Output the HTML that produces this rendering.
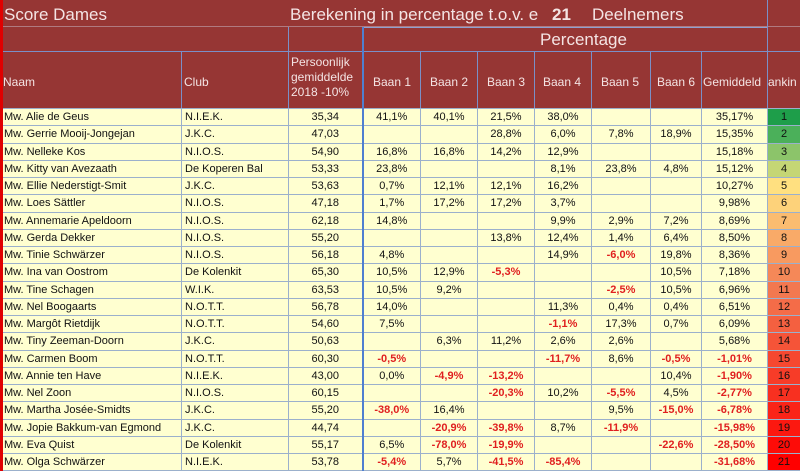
<!DOCTYPE html>
<html><head><meta charset="utf-8"><style>
body{margin:0;width:800px;height:471px;overflow:hidden;background:#fff;font-family:"Liberation Sans",Arial,sans-serif}
.top{position:absolute;left:0;top:0;width:800px;height:108px;background:#963634;color:#f4e4e4}
.top div{position:absolute}
table{position:absolute;left:0;top:108px;border-collapse:collapse;table-layout:fixed;width:800px}
td{height:16.25px;padding:0 3px;font-size:11px;color:#111;border:1px solid #9bb0cc;background:#ffffd0;white-space:nowrap;overflow:hidden;text-align:center}
td.l{text-align:left}
td.n{color:#e02020;font-weight:bold}
tr td:nth-child(4){border-left:2px solid #4f7fd0}
.vl{position:absolute;width:1px;background:#7a8fc8;top:51px;height:57px}
</style></head><body>
<div class="top">
<div style="left:0;top:0;width:3px;height:471px;background:#e00000"></div>
<div style="left:4px;top:5px;font-size:17px">Score Dames</div>
<div style="left:290px;top:5px;font-size:17px">Berekening in percentage t.o.v. e</div>
<div style="left:552px;top:5px;font-size:17px;font-weight:bold">21</div>
<div style="left:592px;top:5px;font-size:17px">Deelnemers</div>
<div style="left:0;top:26px;width:800px;height:1px;background:#b07a80"></div>
<div style="left:362px;top:27px;width:405px;height:1px;background:#8ea0d0"></div>
<div style="left:540px;top:30px;font-size:17px">Percentage</div>
<div style="left:362px;top:51px;width:438px;height:1px;background:#7a8fc8"></div>
<div style="left:0;top:51px;width:362px;height:1px;background:#7a8fc8"></div>
<div style="left:288px;top:27px;width:1px;height:81px;background:#7a8fc8"></div>
<div style="left:362px;top:27px;width:2px;height:81px;background:#4f7fd0"></div>
<div style="left:767px;top:0;width:1px;height:108px;background:#7a8fc8"></div>
<div class="vl" style="left:181px"></div><div class="vl" style="left:420px"></div><div class="vl" style="left:477px"></div><div class="vl" style="left:534px"></div><div class="vl" style="left:591px"></div><div class="vl" style="left:650px"></div><div class="vl" style="left:701px"></div>
<div style="left:3px;top:75px;font-size:12px">Naam</div>
<div style="left:184px;top:75px;font-size:12px">Club</div>
<div style="left:291px;top:55px;font-size:12px;line-height:15px">Persoonlijk<br>gemiddelde<br>2018 -10%</div>
<div style="left:373px;top:75px;font-size:12px">Baan 1</div>
<div style="left:430px;top:75px;font-size:12px">Baan 2</div>
<div style="left:487px;top:75px;font-size:12px">Baan 3</div>
<div style="left:543px;top:75px;font-size:12px">Baan 4</div>
<div style="left:601px;top:75px;font-size:12px">Baan 5</div>
<div style="left:657px;top:75px;font-size:12px">Baan 6</div>
<div style="left:703px;top:75px;font-size:12px">Gemiddeld</div>
<div style="left:768px;top:75px;font-size:12px">ankin</div>
</div>
<table>
<colgroup><col style="width:181px"><col style="width:107px"><col style="width:74px"><col style="width:58px"><col style="width:57px"><col style="width:57px"><col style="width:57px"><col style="width:59px"><col style="width:51px"><col style="width:66px"><col style="width:33px"></colgroup>
<tr><td class="l">Mw. Alie de Geus</td><td class="l">N.I.E.K.</td><td>35,34</td><td>41,1%</td><td>40,1%</td><td>21,5%</td><td>38,0%</td><td></td><td></td><td>35,17%</td><td style="background:#1e9e4a">1</td></tr>
<tr><td class="l">Mw. Gerrie Mooij-Jongejan</td><td class="l">J.K.C.</td><td>47,03</td><td></td><td></td><td>28,8%</td><td>6,0%</td><td>7,8%</td><td>18,9%</td><td>15,35%</td><td style="background:#4bb05a">2</td></tr>
<tr><td class="l">Mw. Nelleke Kos</td><td class="l">N.I.O.S.</td><td>54,90</td><td>16,8%</td><td>16,8%</td><td>14,2%</td><td>12,9%</td><td></td><td></td><td>15,18%</td><td style="background:#8cc46a">3</td></tr>
<tr><td class="l">Mw. Kitty van Avezaath</td><td class="l">De Koperen Bal</td><td>53,33</td><td>23,8%</td><td></td><td></td><td>8,1%</td><td>23,8%</td><td>4,8%</td><td>15,12%</td><td style="background:#c5d675">4</td></tr>
<tr><td class="l">Mw. Ellie Nederstigt-Smit</td><td class="l">J.K.C.</td><td>53,63</td><td>0,7%</td><td>12,1%</td><td>12,1%</td><td>16,2%</td><td></td><td></td><td>10,27%</td><td style="background:#ffe080">5</td></tr>
<tr><td class="l">Mw. Loes Sättler</td><td class="l">N.I.O.S.</td><td>47,18</td><td>1,7%</td><td>17,2%</td><td>17,2%</td><td>3,7%</td><td></td><td></td><td>9,98%</td><td style="background:#fdd27a">6</td></tr>
<tr><td class="l">Mw. Annemarie Apeldoorn</td><td class="l">N.I.O.S.</td><td>62,18</td><td>14,8%</td><td></td><td></td><td>9,9%</td><td>2,9%</td><td>7,2%</td><td>8,69%</td><td style="background:#fbbc70">7</td></tr>
<tr><td class="l">Mw. Gerda Dekker</td><td class="l">N.I.O.S.</td><td>55,20</td><td></td><td></td><td>13,8%</td><td>12,4%</td><td>1,4%</td><td>6,4%</td><td>8,50%</td><td style="background:#f9aa68">8</td></tr>
<tr><td class="l">Mw. Tinie Schwärzer</td><td class="l">N.I.O.S.</td><td>56,18</td><td>4,8%</td><td></td><td></td><td>14,9%</td><td class="n">-6,0%</td><td>19,8%</td><td>8,36%</td><td style="background:#f89a60">9</td></tr>
<tr><td class="l">Mw. Ina van Oostrom</td><td class="l">De Kolenkit</td><td>65,30</td><td>10,5%</td><td>12,9%</td><td class="n">-5,3%</td><td></td><td></td><td>10,5%</td><td>7,18%</td><td style="background:#f58858">10</td></tr>
<tr><td class="l">Mw. Tine Schagen</td><td class="l">W.I.K.</td><td>63,53</td><td>10,5%</td><td>9,2%</td><td></td><td></td><td class="n">-2,5%</td><td>10,5%</td><td>6,96%</td><td style="background:#f37850">11</td></tr>
<tr><td class="l">Mw. Nel Boogaarts</td><td class="l">N.O.T.T.</td><td>56,78</td><td>14,0%</td><td></td><td></td><td>11,3%</td><td>0,4%</td><td>0,4%</td><td>6,51%</td><td style="background:#f46c48">12</td></tr>
<tr><td class="l">Mw. Margôt Rietdijk</td><td class="l">N.O.T.T.</td><td>54,60</td><td>7,5%</td><td></td><td></td><td class="n">-1,1%</td><td>17,3%</td><td>0,7%</td><td>6,09%</td><td style="background:#f46040">13</td></tr>
<tr><td class="l">Mw. Tiny Zeeman-Doorn</td><td class="l">J.K.C.</td><td>50,63</td><td></td><td>6,3%</td><td>11,2%</td><td>2,6%</td><td>2,6%</td><td></td><td>5,68%</td><td style="background:#f55438">14</td></tr>
<tr><td class="l">Mw. Carmen Boom</td><td class="l">N.O.T.T.</td><td>60,30</td><td class="n">-0,5%</td><td></td><td></td><td class="n">-11,7%</td><td>8,6%</td><td class="n">-0,5%</td><td class="n">-1,01%</td><td style="background:#f64830">15</td></tr>
<tr><td class="l">Mw. Annie ten Have</td><td class="l">N.I.E.K.</td><td>43,00</td><td>0,0%</td><td class="n">-4,9%</td><td class="n">-13,2%</td><td></td><td></td><td>10,4%</td><td class="n">-1,90%</td><td style="background:#f73c28">16</td></tr>
<tr><td class="l">Mw. Nel Zoon</td><td class="l">N.I.O.S.</td><td>60,15</td><td></td><td></td><td class="n">-20,3%</td><td>10,2%</td><td class="n">-5,5%</td><td>4,5%</td><td class="n">-2,77%</td><td style="background:#f83020">17</td></tr>
<tr><td class="l">Mw. Martha Josée-Smidts</td><td class="l">J.K.C.</td><td>55,20</td><td class="n">-38,0%</td><td>16,4%</td><td></td><td></td><td>9,5%</td><td class="n">-15,0%</td><td class="n">-6,78%</td><td style="background:#fa2418">18</td></tr>
<tr><td class="l">Mw. Jopie Bakkum-van Egmond</td><td class="l">J.K.C.</td><td>44,74</td><td></td><td class="n">-20,9%</td><td class="n">-39,8%</td><td>8,7%</td><td class="n">-11,9%</td><td></td><td class="n">-15,98%</td><td style="background:#fc1810">19</td></tr>
<tr><td class="l">Mw. Eva Quist</td><td class="l">De Kolenkit</td><td>55,17</td><td>6,5%</td><td class="n">-78,0%</td><td class="n">-19,9%</td><td></td><td></td><td class="n">-22,6%</td><td class="n">-28,50%</td><td style="background:#fd0c08">20</td></tr>
<tr><td class="l">Mw. Olga Schwärzer</td><td class="l">N.I.E.K.</td><td>53,78</td><td class="n">-5,4%</td><td>5,7%</td><td class="n">-41,5%</td><td class="n">-85,4%</td><td></td><td></td><td class="n">-31,68%</td><td style="background:#ff0000">21</td></tr>
</table>
<div style="position:absolute;left:0;top:0;width:3px;height:471px;background:#e00000"></div>
</body></html>
